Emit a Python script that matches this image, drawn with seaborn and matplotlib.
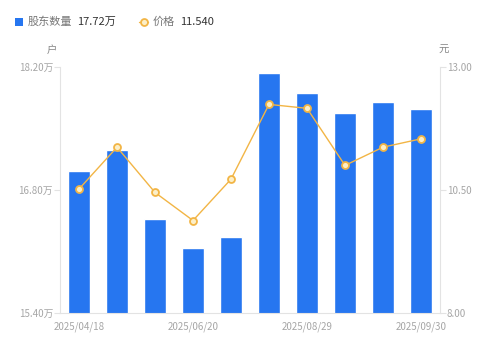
import matplotlib
matplotlib.use("Agg")
import matplotlib.pyplot as plt
import seaborn as sns
import numpy as np
import pandas as pd
from matplotlib.patches import Rectangle
from matplotlib.lines import Line2D

dates = ["2025/04/18", "2025/04/30", "2025/05/30", "2025/06/20", "2025/06/30",
         "2025/07/31", "2025/08/29", "2025/09/10", "2025/09/19", "2025/09/30"]
holders = [17.02, 17.25, 16.47, 16.14, 16.26, 18.13, 17.90, 17.68, 17.80, 17.72]
prices = [10.52, 11.37, 10.45, 9.88, 10.72, 12.24, 12.16, 11.00, 11.37, 11.54]
left_ticks = [15.40, 16.80, 18.20]
right_ticks = [8.00, 10.50, 13.00]
shown_dates = ["2025/04/18", "2025/06/20", "2025/08/29", "2025/09/30"]

sns.set_theme(style="white")
plt.rcParams["font.family"] = ["Noto Sans CJK SC", "DejaVu Sans"]

BLUE = "#2676f0"
ORANGE = "#f2b545"
GRAY = "#a6a6a6"
AXC = "#e3e3e3"

fig = plt.figure(figsize=(4.99, 3.46), dpi=100)
ax = fig.add_axes([60/499, 1-313/346, 380/499, 246/346])
df = pd.DataFrame({"date": dates, "holders": holders, "price": prices})

sns.barplot(data=df, x="date", y="holders", color=BLUE, saturation=1, width=0.6, ax=ax)
ax.set_ylim(15.40, 18.20)
ax.set_xlim(-0.5, len(dates) - 0.5)
ax.set_yticks(left_ticks)
ax.set_yticklabels([f"{t:.2f}万" for t in left_ticks])
idx = [dates.index(d) for d in shown_dates]
ax.set_xticks(idx)
ax.set_xticklabels(shown_dates)
ax.set_xlabel("")
ax.set_ylabel("")

ax2 = ax.twinx()
ax2.set_position(ax.get_position())
sns.lineplot(x=np.arange(len(dates)), y=prices, ax=ax2, color=ORANGE, linewidth=1.0,
             marker="o", markersize=5, markerfacecolor="#fcefc8",
             markeredgecolor=ORANGE, markeredgewidth=1.3)
ax2.set_ylim(8.00, 13.00)
ax2.set_yticks(right_ticks)
ax2.set_yticklabels([f"{t:.2f}" for t in right_ticks])
ax2.set_xlim(-0.5, len(dates) - 0.5)
ax2.set_ylabel("")

for a in (ax, ax2):
    for s in a.spines.values():
        s.set_visible(False)
ax.spines["left"].set_visible(True)
ax.spines["left"].set_color(AXC)
ax.spines["bottom"].set_visible(True)
ax.spines["bottom"].set_color(AXC)
ax2.spines["right"].set_visible(True)
ax2.spines["right"].set_color(AXC)
for s in ("left", "bottom"):
    ax.spines[s].set_linewidth(0.8)
ax2.spines["right"].set_linewidth(0.8)

ax.tick_params(axis="y", left=True, length=4, width=0.8, color=AXC, pad=1,
               labelsize=7, labelcolor=GRAY)
ax.tick_params(axis="x", bottom=False, pad=0, labelsize=7, labelcolor=GRAY)
ax2.tick_params(axis="y", right=True, length=4, width=0.8, color=AXC, pad=1,
                labelsize=7, labelcolor=GRAY)

fig.text(52/499, 1-50/346, "户", fontsize=7.5, color="#888888", ha="center", va="center")
fig.text(444/499, 1-50/346, "元", fontsize=7.5, color="#888888", ha="center", va="center")

# legend
LY = 1 - 22/346
fig.patches.append(Rectangle((15/499, 1-26/346), 7.5/499, 7.5/346, transform=fig.transFigure,
                             facecolor=BLUE, edgecolor="none"))
fig.text(28/499, LY, "股东数量", fontsize=8, color="#777777", va="center")
fig.text(77/499, LY, "17.72万", fontsize=8, color="#333333", va="center")
fig.lines.append(Line2D([139/499, 148/499], [LY, LY], transform=fig.transFigure,
                        color=ORANGE, linewidth=1.0))
fig.lines.append(Line2D([143.5/499], [LY], transform=fig.transFigure,
                        color=ORANGE, marker="o", markersize=5, markerfacecolor="#fcefc8",
                        markeredgecolor=ORANGE, markeredgewidth=1.3, linestyle="none"))
fig.text(153/499, LY, "价格", fontsize=8, color="#777777", va="center")
fig.text(180/499, LY, "11.540", fontsize=8, color="#333333", va="center")

fig.savefig("out.png", dpi=100)
